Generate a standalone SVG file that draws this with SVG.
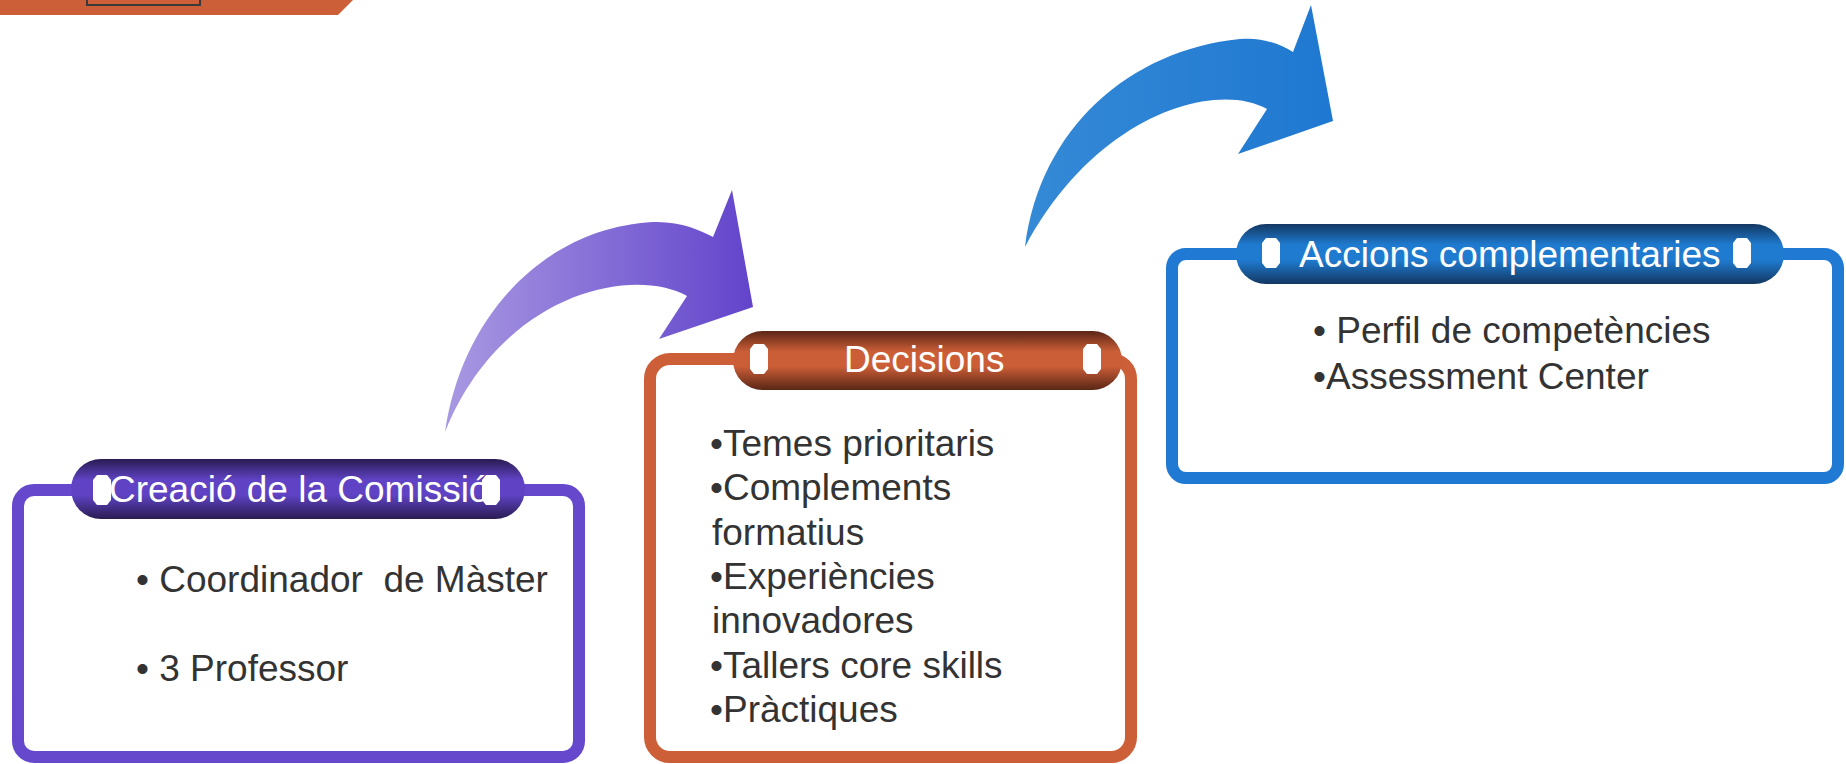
<svg xmlns="http://www.w3.org/2000/svg" width="1846" height="764" viewBox="0 0 1846 764">
<style>
.hdr{font-family:"Liberation Sans",Arial,sans-serif;font-size:37px;fill:#ffffff}
.body{font-family:"Liberation Sans",Arial,sans-serif;font-size:37px;fill:#333333}
.box{fill:#ffffff;stroke-width:12}
.oct{fill:#ffffff}
</style>
<defs>
<linearGradient id="gPur" x1="0" y1="0" x2="0" y2="1">
<stop offset="0" stop-color="#2a1b52"/><stop offset="0.35" stop-color="#5f43c4"/><stop offset="0.6" stop-color="#5f43c4"/><stop offset="1" stop-color="#2a1b52"/>
</linearGradient>
<linearGradient id="gOra" x1="0" y1="0" x2="0" y2="1">
<stop offset="0" stop-color="#5a2616"/><stop offset="0.35" stop-color="#cb5e37"/><stop offset="0.6" stop-color="#cb5e37"/><stop offset="1" stop-color="#5a2616"/>
</linearGradient>
<linearGradient id="gBlu" x1="0" y1="0" x2="0" y2="1">
<stop offset="0" stop-color="#133762"/><stop offset="0.35" stop-color="#1f7bd0"/><stop offset="0.6" stop-color="#1f7bd0"/><stop offset="1" stop-color="#133762"/>
</linearGradient>
<linearGradient id="gArrP" gradientUnits="userSpaceOnUse" x1="445" y1="0" x2="753" y2="0">
<stop offset="0" stop-color="#a999e2"/><stop offset="1" stop-color="#6244cb"/>
</linearGradient>
<linearGradient id="gArrB" gradientUnits="userSpaceOnUse" x1="1025" y1="0" x2="1333" y2="0">
<stop offset="0" stop-color="#358ad6"/><stop offset="1" stop-color="#1f78d1"/>
</linearGradient>
<path id="oct" d="M-5,-15 H5 L9,-10 V10 L5,15 H-5 L-9,10 V-10 Z"/>
</defs>

<g id="topbar">
<polygon points="0,0 353,0 338,15 0,15" fill="#cd5f38"/>
<polyline points="87,-2 87,5 200,5 200,-2" fill="none" stroke="#3a3a3a" stroke-width="2"/>
</g>

<g id="connectors">
<path d="M445,432 C462,315 545,228 653,222 C680,221 700,230 713,237 L732,190 L753,307 L659,339 L687,296 C630,265 500,295 445,432 Z" fill="url(#gArrP)"/>
<path d="M1025,247 C1040,128 1130,50 1240,39 C1262,37 1280,44 1293,52 L1311,5 L1333,121 L1238,154 L1267,109 C1215,80 1095,115 1025,247 Z" fill="url(#gArrB)"/>
</g>

<g id="node-creacio">
<rect class="box" x="18" y="490" width="561" height="267" rx="16" stroke="#6548cc"/>
<rect x="71" y="459" width="454" height="60" rx="30" fill="url(#gPur)"/>
<use href="#oct" class="oct" x="102" y="490"/>
<use href="#oct" class="oct" x="491" y="490"/>
<text class="hdr" x="109" y="502">Creació de la Comissió</text>
<text class="body" x="136" y="592" xml:space="preserve">• Coordinador  de Màster</text>
<text class="body" x="136" y="681">• 3 Professor</text>
</g>

<g id="node-decisions">
<rect class="box" x="650" y="359" width="481" height="398" rx="20" stroke="#cd5f38"/>
<rect x="733" y="331" width="389" height="59" rx="29.5" fill="url(#gOra)"/>
<use href="#oct" class="oct" x="759" y="359"/>
<use href="#oct" class="oct" x="1092" y="359"/>
<text class="hdr" x="844" y="372">Decisions</text>
<text class="body" x="710" y="456">•Temes prioritaris</text>
<text class="body" x="710" y="500">•Complements</text>
<text class="body" x="712" y="545">formatius</text>
<text class="body" x="710" y="589">•Experiències</text>
<text class="body" x="712" y="633">innovadores</text>
<text class="body" x="710" y="678">•Tallers core skills</text>
<text class="body" x="710" y="722">•Pràctiques</text>
</g>

<g id="node-accions">
<rect class="box" x="1172" y="254" width="666" height="224" rx="14" stroke="#2079d2"/>
<rect x="1236" y="224" width="548" height="60" rx="30" fill="url(#gBlu)"/>
<use href="#oct" class="oct" x="1271" y="253"/>
<use href="#oct" class="oct" x="1742" y="253"/>
<text class="hdr" x="1299" y="267">Accions complementaries</text>
<text class="body" x="1313" y="343">• Perfil de competències</text>
<text class="body" x="1313" y="389">•Assessment Center</text>
</g>
</svg>
